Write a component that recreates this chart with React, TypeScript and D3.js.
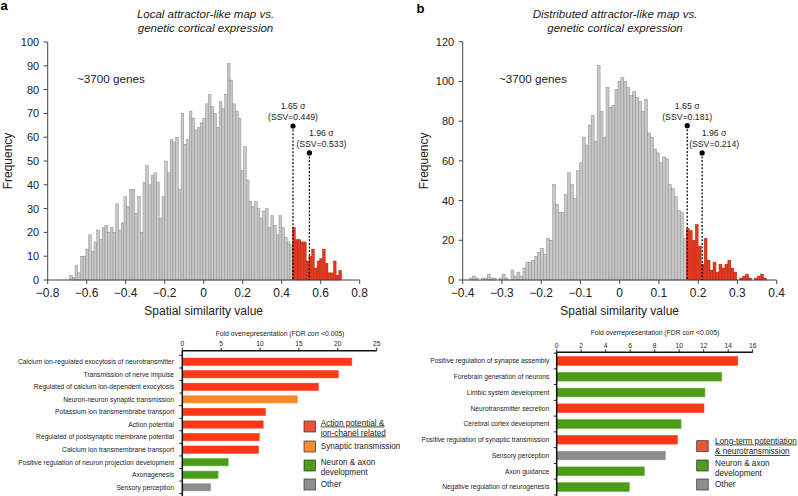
import React from 'react';
import * as d3 from 'd3';

// ---------- DATA ----------
// Panel a histogram: ~100 bins of spatial similarity values
const countsA = [
  2, 1, 6, 3, 10, 10, 13, 19, 12, 16,
  21, 17, 22, 23, 20, 22, 20, 32, 21, 24,
  35, 31, 38, 38, 28, 35, 20, 41, 48, 40,
  44, 45, 41, 26, 35, 50, 45, 59, 58, 60,
  38, 70, 57, 59, 71, 68, 63, 64, 66, 68,
  74, 78, 73, 70, 64, 75, 72, 78, 91, 84,
  74, 71, 68, 46, 56, 42, 33, 31, 33, 30,
  26, 29, 30, 22, 27, 23, 19, 27, 22, 18,
  16, 15, 22, 17, 17, 16, 16, 8, 10, 13,
  5, 8, 9, 13, 7, 3, 3, 8, 2, 4,
];
const binRangeA = [-0.688, 0.707];
const xTicksA = [-0.8, -0.6, -0.4, -0.2, 0, 0.2, 0.4, 0.6, 0.8];
const yTicksA = [0, 10, 20, 30, 40, 50, 60, 70, 80, 90, 100];
const markerXA = [0.458, 0.542];
const markerTopA = [64.7, 53.4];
const markerLabelsA = [['1.65 σ', '(SSV=0.449)'], ['1.96 σ', '(SSV=0.533)']];

// Panel b histogram
const countsB = [
  1, 2, 1, 0, 1, 1, 3, 1, 1, 0,
  1, 3, 1, 0, 5, 2, 4, 2, 6, 9,
  9, 10, 12, 14, 16, 13, 21, 20, 48, 38,
  34, 34, 43, 54, 48, 41, 55, 59, 72, 68,
  78, 83, 70, 108, 85, 72, 97, 87, 88, 96,
  100, 102, 100, 97, 93, 95, 92, 90, 85, 91,
  74, 72, 66, 64, 59, 62, 61, 48, 46, 42,
  35, 34, 21, 26, 25, 20, 28, 17, 8, 21,
  10, 5, 9, 4, 8, 6, 8, 10, 6, 4,
  0, 1, 2, 3, 1, 0, 1, 2, 3, 1,
];
const binRangeB = [-0.383, 0.374];
const xTicksB = [-0.4, -0.3, -0.2, -0.1, 0, 0.1, 0.2, 0.3, 0.4];
const yTicksB = [0, 20, 40, 60, 80, 100, 120];
const markerXB = [0.172, 0.21];
const markerTopB = [77.7, 64];
const markerLabelsB = [['1.65 σ', '(SSV=0.181)'], ['1.96 σ', '(SSV=0.214)']];

// Panel a bar chart
const catsA = [
  'Calcium ion-regulated exocytosis of neurotransmitter',
  'Transmission of nerve impulse',
  'Regulated of calcium ion-dependent exocytosis',
  'Neuron-neuron synaptic transmission',
  'Potassium ion transmembrabe transport',
  'Action potential',
  'Regulated of postsynaptic membrane potential',
  'Calcium ion transmembrane transport',
  'Positive regulation of neuron projection development',
  'Axonagenesis',
  'Sensory perception',
];
const valsA = [21.8, 20.05, 17.5, 14.8, 10.7, 10.4, 9.9, 9.8, 5.9, 4.6, 3.65];
const groupsA = ['ap', 'ap', 'ap', 'syn', 'ap', 'ap', 'ap', 'ap', 'neu', 'neu', 'oth'];
const barTicksA = [0, 5, 10, 15, 20, 25];

// Panel b bar chart
const catsB = [
  'Positive regulation of synapse assembly',
  'Forebrain generation of neurons',
  'Limbic system development',
  'Neurotransmitter secretion',
  'Cerebral cortex development',
  'Positive regulation of synaptic transmission',
  'Sensory perception',
  'Axon guidance',
  'Negative regulation of neurogenesis',
];
const valsB = [14.78, 13.47, 12.1, 12.02, 10.15, 9.85, 8.87, 7.15, 5.93];
const groupsB = ['ltp', 'neu', 'neu', 'ltp', 'neu', 'ltp', 'oth', 'neu', 'neu'];
const barTicksB = [0, 2, 4, 6, 8, 10, 12, 14, 16];

const legendA = [
  { key: 'ap', lines: ['Action potential &', 'ion-chanel related'], underline: true },
  { key: 'syn', lines: ['Synaptic transmission'], underline: false },
  { key: 'neu', lines: ['Neuron & axon', 'development'], underline: false },
  { key: 'oth', lines: ['Other'], underline: false },
];
const legendB = [
  { key: 'ltp', lines: ['Long-term potentiation', '& neurotransmission'], underline: true },
  { key: 'neu', lines: ['Neuron & axon', 'development'], underline: false },
  { key: 'oth', lines: ['Other'], underline: false },
];

// ---------- STYLE ----------
const FONT = '"Liberation Sans", Arial, Helvetica, sans-serif';
const barColor: Record<string, string> = {
  ap: '#fc3816', syn: '#f7892a', neu: '#4c9c1a', oth: '#8c8c8c', ltp: '#fc3816',
};
const legColor: Record<string, string> = {
  ap: '#ea553a', syn: '#f58b3a', neu: '#4f9a1f', oth: '#8e8e8e', ltp: '#ea553a',
};

const fmtX = (v: number) => (Math.abs(v) < 1e-9 ? '0' : d3.format('.1f')(v));

type HistProps = {
  counts: number[]; binRange: number[]; xTicks: number[]; yTicks: number[];
  xRange: [number, number]; yRange: [number, number]; yMax: number;
  markerX: number[]; markerTop: number[]; markerLabels: string[][];
  title: string[]; titleX: number; letter: string; letterX: number; letterY: number;
  genesX: number; ylabelX: number;
};

function Histogram(p: HistProps) {
  const xs = d3.scaleLinear().domain([p.xTicks[0], p.xTicks[p.xTicks.length - 1]]).range(p.xRange);
  const ys = d3.scaleLinear().domain([0, p.yMax]).range(p.yRange);
  const n = p.counts.length;
  const bw = (p.binRange[1] - p.binRange[0]) / n;
  const bins = p.counts.map((c, i) => ({ x0: p.binRange[0] + i * bw, x1: p.binRange[0] + (i + 1) * bw, c }));
  const y0 = ys(0);
  const axX = p.xRange[0];
  return (
    <g fontFamily={FONT}>
      <text x={p.letterX} y={p.letterY} fontSize={13} fontWeight="bold">{p.letter}</text>
      <text x={p.titleX} y={18.3} fontSize={11.5} fontStyle="italic" textAnchor="middle" fill="#222">{p.title[0]}</text>
      <text x={p.titleX} y={31.7} fontSize={11.5} fontStyle="italic" textAnchor="middle" fill="#222">{p.title[1]}</text>
      {bins.map((b, i) => {
        const red = b.x0 >= p.markerX[0] - bw / 2;
        if (b.c <= 0) return null;
        return (
          <rect key={i} x={xs(b.x0)} y={ys(b.c)} width={xs(b.x1) - xs(b.x0)} height={y0 - ys(b.c)}
            fill={red ? '#e2391f' : '#c8c8c8'} stroke={red ? '#b02a15' : '#878787'} strokeWidth={0.45} />
        );
      })}
      <line x1={axX} x2={axX} y1={ys(p.yMax)} y2={y0} stroke="#444" strokeWidth={1} />
      <line x1={axX} x2={p.xRange[1]} y1={y0} y2={y0} stroke="#444" strokeWidth={1} />
      {p.yTicks.map((t) => (
        <g key={'y' + t}>
          <line x1={axX - 4} x2={axX} y1={ys(t)} y2={ys(t)} stroke="#444" />
          <text x={axX - 8.5} y={ys(t)} dy="0.36em" fontSize={11} textAnchor="end" fill="#222">{t}</text>
        </g>
      ))}
      {p.xTicks.map((t) => (
        <g key={'x' + t}>
          <line x1={xs(t)} x2={xs(t)} y1={y0} y2={y0 + 4} stroke="#444" />
          <text x={xs(t)} y={y0 + 17} fontSize={12} textAnchor="middle" fill="#222">{fmtX(t)}</text>
        </g>
      ))}
      <text x={(p.xRange[0] + p.xRange[1]) / 2} y={315} fontSize={12} textAnchor="middle" fill="#222">Spatial similarity value</text>
      <text transform={`translate(${p.ylabelX},${(ys(p.yMax) + y0) / 2}) rotate(-90)`} fontSize={12} textAnchor="middle" fill="#222">Frequency</text>
      <text x={p.genesX} y={82.5} fontSize={11.7} fill="#222">~3700 genes</text>
      {p.markerX.map((m, i) => {
        const cx = xs(m);
        const cy = ys(p.markerTop[i]);
        const lx = i === 0 ? cx : cx + 12;
        return (
          <g key={'m' + i}>
            <line x1={cx} x2={cx} y1={cy} y2={y0} stroke="#000" strokeWidth={1.2} strokeDasharray="2,1.6" />
            <circle cx={cx} cy={cy} r={2.6} fill="#000" />
            <text x={lx} y={cy - 17} fontSize={8.7} textAnchor="middle" fill="#222">{p.markerLabels[i][0]}</text>
            <text x={lx} y={cy - 6} fontSize={8.7} textAnchor="middle" fill="#222">{p.markerLabels[i][1]}</text>
          </g>
        );
      })}
    </g>
  );
}

type BarProps = {
  cats: string[]; vals: number[]; groups: string[]; ticks: number[];
  xRange: [number, number]; axisY: number; band: [number, number]; pad: number;
  labelX: number; titleX: number; titleY: number;
  legend: { key: string; lines: string[]; underline: boolean }[];
  legX: number; legYs: number[]; legTextX: number; legBaselines: number[][];
};

function BarChart(p: BarProps) {
  const xs = d3.scaleLinear().domain([p.ticks[0], p.ticks[p.ticks.length - 1]]).range(p.xRange);
  const ys = d3.scaleBand<string>().domain(p.cats).range(p.band).paddingInner(p.pad).paddingOuter(p.pad / 2);
  const step = ys.step();
  const x0 = p.xRange[0];
  const boundaries = d3.range(p.cats.length + 1).map((k) => p.band[0] + k * step);
  return (
    <g fontFamily={FONT} fill="#222">
      <text x={p.titleX} y={p.titleY} fontSize={6.8} textAnchor="middle">Fold overrepresentation (FDR corr &lt;0.005)</text>
      {p.cats.map((c, i) => (
        <g key={c}>
          <rect x={x0} y={ys(c)!} width={xs(p.vals[i]) - x0} height={ys.bandwidth()}
            fill={barColor[p.groups[i]]} stroke={d3.color(barColor[p.groups[i]])!.brighter(0.4).toString()} strokeWidth={0.6} />
          <text x={p.labelX} y={ys(c)! + ys.bandwidth() / 2} dy="0.35em" fontSize={6.7} textAnchor="end">{c}</text>
        </g>
      ))}
      <line x1={x0} x2={p.xRange[1]} y1={p.axisY} y2={p.axisY} stroke="#111" strokeWidth={1.4} />
      {p.ticks.map((t) => (
        <g key={t}>
          <line x1={xs(t)} x2={xs(t)} y1={p.axisY} y2={p.axisY - 3} stroke="#111" strokeWidth={0.9} />
          <text x={xs(t)} y={p.axisY - 4.8} fontSize={6.7} textAnchor="middle">{t}</text>
        </g>
      ))}
      <line x1={x0} x2={x0} y1={p.axisY} y2={497} stroke="#111" strokeWidth={1.5} />
      {boundaries.map((b, k) => (
        <line key={k} x1={x0 - 3} x2={x0} y1={b} y2={b} stroke="#111" strokeWidth={0.9} />
      ))}
      {p.legend.map((l, i) => (
        <g key={l.key}>
          <rect x={p.legX} y={p.legYs[i]} width={11.5} height={11} fill={legColor[l.key]} stroke="#333" strokeWidth={0.7} />
          {l.lines.map((s, j) => (
            <text key={j} x={p.legTextX} y={p.legBaselines[i][j]} fontSize={8.2}
              style={l.underline ? { textDecoration: 'underline' } : undefined}>{s}</text>
          ))}
        </g>
      ))}
    </g>
  );
}

export default function App() {
  return (
    <svg width={798} height={496} viewBox="0 0 798 496"
      style={{ position: 'absolute', left: 0, top: 0, background: '#fff' }}>
      <defs>
        <clipPath id="leftHalf"><rect x={0} y={0} width={400} height={496} /></clipPath>
      </defs>
      <rect x={0} y={0} width={798} height={496} fill="#fff" />
      <Histogram counts={countsA} binRange={binRangeA} xTicks={xTicksA} yTicks={yTicksA}
        xRange={[47.7, 359.7]} yRange={[280, 42]} yMax={100}
        markerX={markerXA} markerTop={markerTopA} markerLabels={markerLabelsA}
        title={['Local attractor-like map vs.', 'genetic cortical expression']} titleX={205.5}
        letter="a" letterX={0.5} letterY={10} genesX={77} ylabelX={12} />
      <Histogram counts={countsB} binRange={binRangeB} xTicks={xTicksB} yTicks={yTicksB}
        xRange={[462.7, 776.7]} yRange={[280, 41.7]} yMax={120}
        markerX={markerXB} markerTop={markerTopB} markerLabels={markerLabelsB}
        title={['Distributed attractor-like map vs.', 'genetic cortical expression']} titleX={615}
        letter="b" letterX={416.5} letterY={12.5} genesX={499} ylabelX={428} />
      <g clipPath="url(#leftHalf)">
        <BarChart cats={catsA} vals={valsA} groups={groupsA} ticks={barTicksA}
          xRange={[182.3, 376.7]} axisY={350.7} band={[355.4, 493.6]} pad={0.42}
          labelX={174} titleX={280} titleY={336}
          legend={legendA} legX={304} legYs={[421, 441, 460, 479]} legTextX={320.7}
          legBaselines={[[425.5, 435.5], [449], [465, 475], [487.3]]} />
      </g>
      <BarChart cats={catsB} vals={valsB} groups={groupsB} ticks={barTicksB}
        xRange={[556.7, 752.7]} axisY={352.3} band={[353.1, 494.9]} pad={0.45}
        labelX={549.3} titleX={655} titleY={335}
        legend={legendB} legX={696.7} legYs={[440.7, 460, 479]} legTextX={715}
        legBaselines={[[443.5, 454], [465.5, 475.7], [487]]} />
    </svg>
  );
}
